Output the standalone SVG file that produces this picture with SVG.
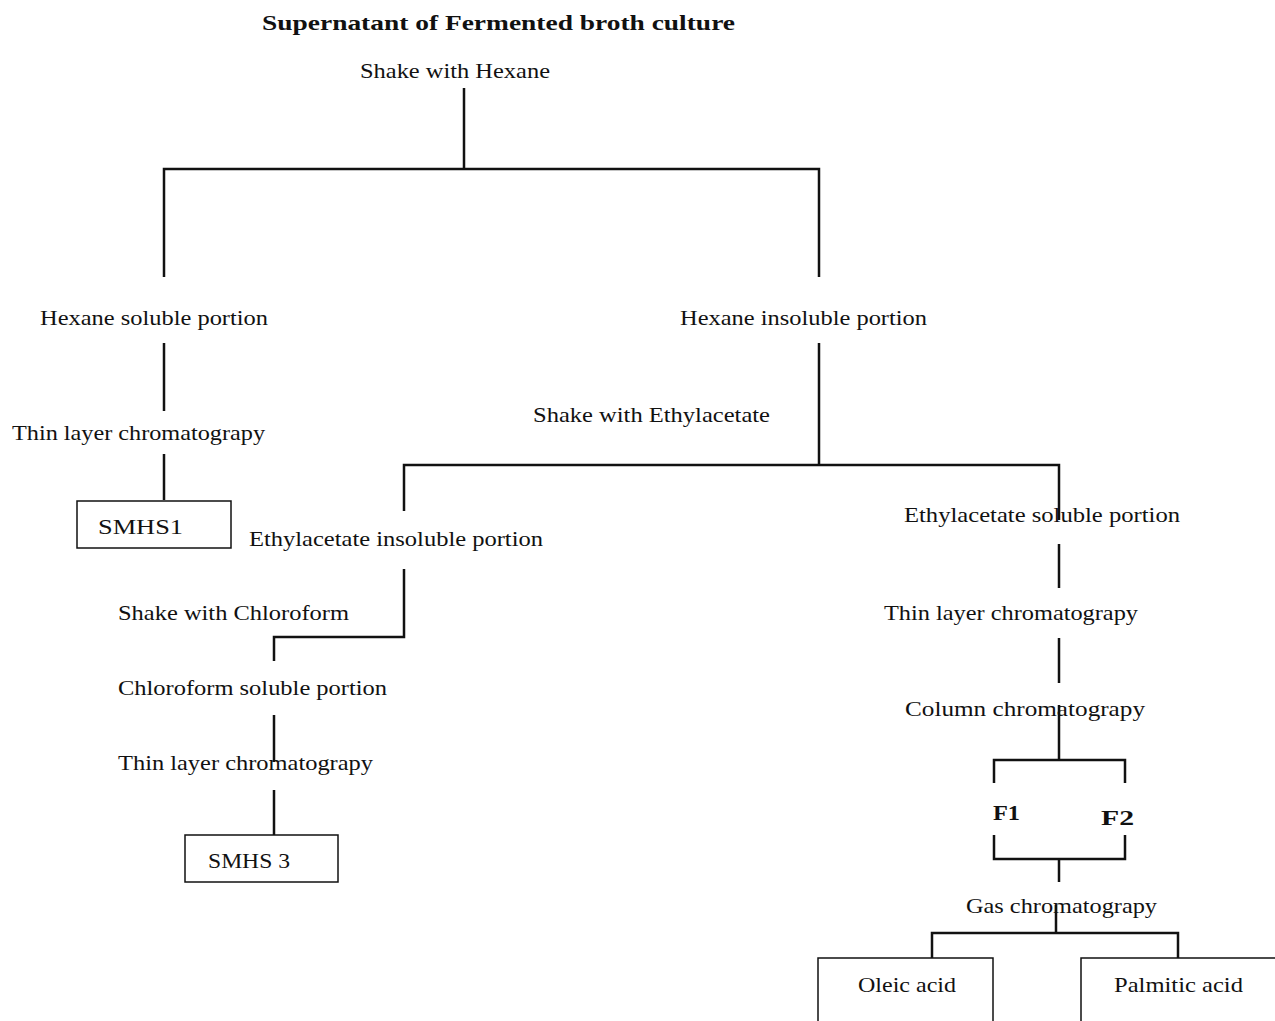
<svg xmlns="http://www.w3.org/2000/svg" width="1275" height="1021" viewBox="0 0 1275 1021">
<style>
text{font-family:"Liberation Serif","Times New Roman",serif;font-size:21px;fill:#111}
.b{font-weight:bold}
.t{stroke:#111;stroke-width:2.5;fill:none}
.box{stroke:#111;stroke-width:1.5;fill:#fff}
</style>
<rect width="1275" height="1021" fill="#fff"/>
<g id="connectors">
<path class="t" d="M464 88V169M164 277V169H819V277"/>
<path class="t" d="M164 343V411M164 454V500"/>
<path class="t" d="M819 343V465M404 511V465H1059V520"/>
<path class="t" d="M404 569V637H274V661"/>
<path class="t" d="M274 715V762M274 790V835"/>
<path class="t" d="M1059 544V588M1059 638V683M1059 705V760"/>
<path class="t" d="M994 783V760H1125V783"/>
<path class="t" d="M994 835V859H1125V835M1059 859V882"/>
<path class="t" d="M1056 905V933M932 958V933H1178V958"/>
</g>
<g id="title"><text class="b" x="262" y="30" font-size="23" textLength="473" lengthAdjust="spacingAndGlyphs">Supernatant of Fermented broth culture</text></g>
<g id="shake-hexane"><text x="360" y="78" textLength="190" lengthAdjust="spacingAndGlyphs">Shake with Hexane</text></g>
<g id="hexane-soluble"><text x="40" y="325" textLength="228" lengthAdjust="spacingAndGlyphs">Hexane soluble portion</text></g>
<g id="hexane-insoluble"><text x="680" y="325" textLength="247" lengthAdjust="spacingAndGlyphs">Hexane insoluble portion</text></g>
<g id="tlc1"><text x="12" y="440" textLength="253" lengthAdjust="spacingAndGlyphs">Thin layer chromatograpy</text></g>
<g id="smhs1"><rect class="box" x="77" y="501" width="154" height="47"/><text x="98" y="534" textLength="85" lengthAdjust="spacingAndGlyphs">SMHS1</text></g>
<g id="shake-ethyl"><text x="533" y="422" textLength="237" lengthAdjust="spacingAndGlyphs">Shake with Ethylacetate</text></g>
<g id="ethyl-insoluble"><text x="249" y="546" textLength="294" lengthAdjust="spacingAndGlyphs">Ethylacetate insoluble portion</text></g>
<g id="ethyl-soluble"><text x="904" y="522" textLength="276" lengthAdjust="spacingAndGlyphs">Ethylacetate soluble portion</text></g>
<g id="shake-chloro"><text x="118" y="620" textLength="231" lengthAdjust="spacingAndGlyphs">Shake with Chloroform</text></g>
<g id="chloro-soluble"><text x="118" y="695" textLength="269" lengthAdjust="spacingAndGlyphs">Chloroform soluble portion</text></g>
<g id="tlc2"><text x="118" y="770" textLength="255" lengthAdjust="spacingAndGlyphs">Thin layer chromatograpy</text></g>
<g id="smhs3"><rect class="box" x="185" y="835" width="153" height="47"/><text x="208" y="868" textLength="82" lengthAdjust="spacingAndGlyphs">SMHS 3</text></g>
<g id="tlc3"><text x="884" y="620" textLength="254" lengthAdjust="spacingAndGlyphs">Thin layer chromatograpy</text></g>
<g id="column"><text x="905" y="716" textLength="240" lengthAdjust="spacingAndGlyphs">Column  chromatograpy</text></g>
<g id="f1"><text class="b" x="993" y="820" font-size="22" textLength="27" lengthAdjust="spacingAndGlyphs">F1</text></g>
<g id="f2"><text class="b" x="1101" y="825" font-size="25" textLength="33" lengthAdjust="spacingAndGlyphs">F2</text></g>
<g id="gas"><text x="966" y="913" textLength="191" lengthAdjust="spacingAndGlyphs">Gas chromatograpy</text></g>
<g id="oleic"><rect class="box" x="818" y="958" width="175" height="80"/><text x="858" y="992" textLength="98" lengthAdjust="spacingAndGlyphs">Oleic acid</text></g>
<g id="palmitic"><rect class="box" x="1081" y="958" width="210" height="80"/><text x="1114" y="992" textLength="129" lengthAdjust="spacingAndGlyphs">Palmitic acid</text></g>
</svg>
